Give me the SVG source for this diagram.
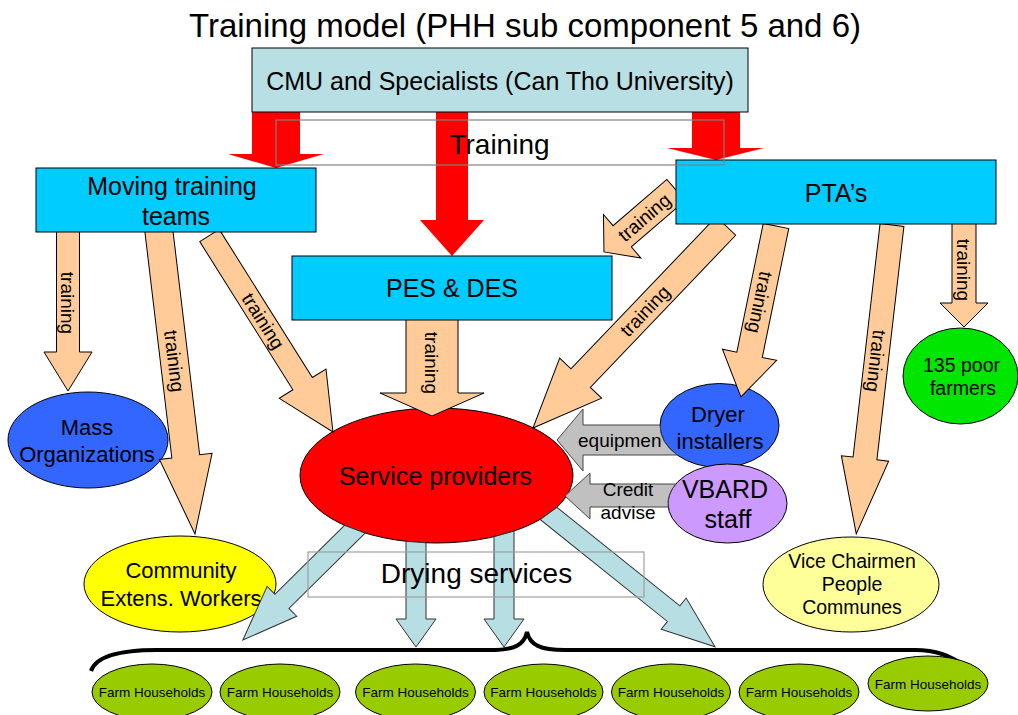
<svg xmlns="http://www.w3.org/2000/svg" width="1018" height="715" viewBox="0 0 1018 715">
<style>
text{font-family:"Liberation Sans",Arial,sans-serif;fill:#000}
.nd{stroke:#000;stroke-width:1}
.box{fill:#00ccff;stroke:#000;stroke-width:1}
.pa polygon{fill:#ffcc99;stroke:#000;stroke-width:1}
.lb polygon{fill:#b7dfe3;stroke:#333;stroke-width:1}
.ga{fill:#c0c0c0;stroke:#444;stroke-width:1}
.red{fill:#ff0000}
.lbl{font-size:19px;text-anchor:middle}
.c{text-anchor:middle}
.fh ellipse{fill:#99cc00;stroke:#000;stroke-width:1}
.fh text{font-size:13.5px;text-anchor:middle}
</style>
<rect width="1018" height="715" fill="#fff"/>
<g id="title"><text x="525" y="37" font-size="33" class="c">Training model (PHH sub component 5 and 6)</text></g>

<g id="node-mass"><ellipse class="nd" cx="88" cy="440" rx="80" ry="48" fill="#3366ff"/><text class="c" font-size="22" x="87" y="435">Mass</text><text class="c" font-size="22" x="87" y="462">Organizations</text></g>
<g id="node-cew"><ellipse class="nd" cx="180" cy="584" rx="96" ry="48" fill="#ffff00"/><text class="c" font-size="22" x="181" y="578">Community</text><text class="c" font-size="22" x="181" y="606">Extens. Workers</text></g>
<g id="node-sp"><ellipse class="nd" cx="436.5" cy="475.5" rx="136.5" ry="67.5" fill="#ff0000"/><text class="c" font-size="25" x="435.5" y="485">Service providers</text></g>
<g id="node-dryer"><ellipse class="nd" cx="719.5" cy="425.5" rx="59.5" ry="42" fill="#3366ff"/><text class="c" font-size="22" x="718" y="422">Dryer</text><text class="c" font-size="22" x="720" y="449">installers</text></g>
<g id="node-vbard"><ellipse class="nd" cx="727.5" cy="503.5" rx="59.5" ry="39.5" fill="#cc99ff"/><text class="c" font-size="25" x="725" y="498">VBARD</text><text class="c" font-size="25" x="728" y="528">staff</text></g>
<g id="node-poor"><ellipse class="nd" cx="960.5" cy="376" rx="57.5" ry="48" fill="#00e600"/><text class="c" font-size="19.5" x="961.5" y="372">135 poor</text><text class="c" font-size="19.5" x="963" y="395">farmers</text></g>
<g id="node-vice"><ellipse class="nd" cx="851" cy="584.5" rx="88" ry="47.5" fill="#ffff99"/><text class="c" font-size="19.5" x="852" y="568">Vice Chairmen</text><text class="c" font-size="19.5" x="852" y="591">People</text><text class="c" font-size="19.5" x="852" y="614">Communes</text></g>

<g id="brace"><path d="M91,671 C96,656 120,650 157,650 L490,650 C515,650 524,645 527,632 C530,645 540,650 565,650 L915,650 C935,650 950,655 966,667" fill="none" stroke="#000" stroke-width="4"/></g>

<g id="node-fh1" class="fh"><ellipse cx="152" cy="692" rx="60" ry="28"/><text x="152" y="697">Farm Households</text></g>
<g id="node-fh2" class="fh"><ellipse cx="280" cy="692" rx="60" ry="28"/><text x="280" y="697">Farm Households</text></g>
<g id="node-fh3" class="fh"><ellipse cx="415.5" cy="692" rx="60" ry="28"/><text x="415.5" y="697">Farm Households</text></g>
<g id="node-fh4" class="fh"><ellipse cx="543.5" cy="692" rx="59.5" ry="28"/><text x="543.5" y="697">Farm Households</text></g>
<g id="node-fh5" class="fh"><ellipse cx="671" cy="692" rx="59.5" ry="28"/><text x="671" y="697">Farm Households</text></g>
<g id="node-fh6" class="fh"><ellipse cx="799" cy="692" rx="60" ry="28"/><text x="799" y="697">Farm Households</text></g>
<g id="node-fh7" class="fh"><ellipse cx="928" cy="683.5" rx="60" ry="27.5"/><text x="928" y="689">Farm Households</text></g>

<g id="connectors">
  <g id="red-arrows" class="red">
    <polygon points="252,112 300,112 300,154 324,154 276,168 228,154 252,154"/>
    <polygon points="436,112 468,112 468,220 484,220 452,256 420,220 436,220"/>
    <polygon points="692,112 740,112 740,148 764,148 716,160 667,148 692,148"/>
  </g>
  <g id="peach-arrows" class="pa">
    <g transform="translate(68,230) rotate(90)"><polygon points="0,-11.5 122,-11.5 122,-24 161,0 122,24 122,11.5 0,11.5"/><text class="lbl" x="73" y="6.7">training</text></g>
    <g transform="translate(158.76,230) rotate(83.2)"><polygon points="0,-14 228,-14 228,-26.5 306,0 228,26.5 228,14 0,14"/><text class="lbl" x="132" y="6.7">training</text></g>
    <g transform="translate(209.5,235.5) rotate(57.85)"><polygon points="0,-11.5 175,-11.5 175,-27.6 232,0 175,27.6 175,11.5 0,11.5"/><text class="lbl" x="101" y="6.7">training</text></g>
    <g transform="translate(432,318) rotate(90)"><polygon points="0,-26 75,-26 75,-52 98,0 75,52 75,26 0,26"/><text class="lbl" x="45" y="6.7">training</text></g>
    <g transform="translate(676,190) rotate(139.3)"><polygon points="0,-14 71,-14 71,-28.7 95,0 71,28.7 71,14 0,14"/><text class="lbl" x="42" y="6.7" transform="rotate(180 42 0)">training</text></g>
    <g transform="translate(726,226) rotate(133.7)"><polygon points="0,-13.4 210.4,-13.4 210.4,-29 279.4,0 210.4,29 210.4,13.4 0,13.4"/><text class="lbl" x="117.5" y="6.7" transform="rotate(180 117.5 0)">training</text></g>
    <g transform="translate(776,226) rotate(101.6)"><polygon points="0,-13 131.5,-13 131.5,-27.7 174.5,0 131.5,27.7 131.5,13 0,13"/><text class="lbl" x="78" y="6.7">training</text></g>
    <g transform="translate(892,225) rotate(96.6)"><polygon points="0,-12 235,-12 235,-23.8 311,0 235,23.8 235,12 0,12"/><text class="lbl" x="137" y="6.7">training</text></g>
    <g transform="translate(964,222) rotate(90)"><polygon points="0,-12 81,-12 81,-24 105,0 81,24 81,12 0,12"/><text class="lbl" x="48" y="6.7">training</text></g>
  </g>
  <g id="grey-arrows">
    <path class="ga" d="M583,425 L660,425 A59.5 42 0 0 0 677.1,455 L583,455 L583,471 L557,440 L583,409 Z"/>
    <text x="578" y="447" font-size="19">equipmen</text>
    <path class="ga" d="M590,484 L675.8,484 A59.5 39.5 0 0 0 668.2,507 L590,507 L590,519 L565,496 L590,473 Z"/>
    <text class="c" x="628" y="496" font-size="19">Credit</text>
    <text class="c" x="628" y="519" font-size="19">advise</text>
  </g>
  <g id="blue-arrows" class="lb">
    <g transform="translate(353,531) rotate(135.3)"><polygon points="-7.2,-10 100,-10 100,-21 155,0 100,21 100,10 2.1,10"/></g>
    <polygon points="406,541.3 406,619 396,619 416,647 436,619 426,619 426,542.8"/>
    <polygon points="494,536.7 494,619 484,619 504,647 524,619 514,619 514,531.1"/>
    <g transform="translate(548,513) rotate(38.7)"><polygon points="3.35,-10 161,-10 161,-20 214,0 161,20 161,10 -2.1,10"/></g>
  </g>
</g>

<g id="node-cmu"><rect x="252" y="48" width="496" height="64" fill="#b8dfe3" stroke="#000" stroke-width="1"/><text class="c" font-size="25" x="500" y="90">CMU and Specialists (Can Tho University)</text></g>
<g id="node-mtt"><rect class="box" x="36" y="168" width="280" height="64"/><text class="c" font-size="25" x="172" y="195">Moving training</text><text class="c" font-size="25" x="176" y="225">teams</text></g>
<g id="node-pes"><rect class="box" x="292" y="256" width="320" height="64"/><text class="c" font-size="25" x="452" y="297">PES &amp; DES</text></g>
<g id="node-pta"><rect class="box" x="676" y="160" width="320" height="64"/><text class="c" font-size="25" x="836" y="202">PTA’s</text></g>

<g id="label-training"><rect x="276" y="120" width="448" height="45" fill="none" stroke="#808080" stroke-width="1.2"/><text class="c" font-size="28" x="499.5" y="154">Training</text></g>
<g id="label-drying"><rect x="308" y="552" width="336" height="45" fill="none" stroke="#a0a0a0" stroke-width="1.2"/><text class="c" font-size="28" x="476.5" y="583">Drying services</text></g>
</svg>
